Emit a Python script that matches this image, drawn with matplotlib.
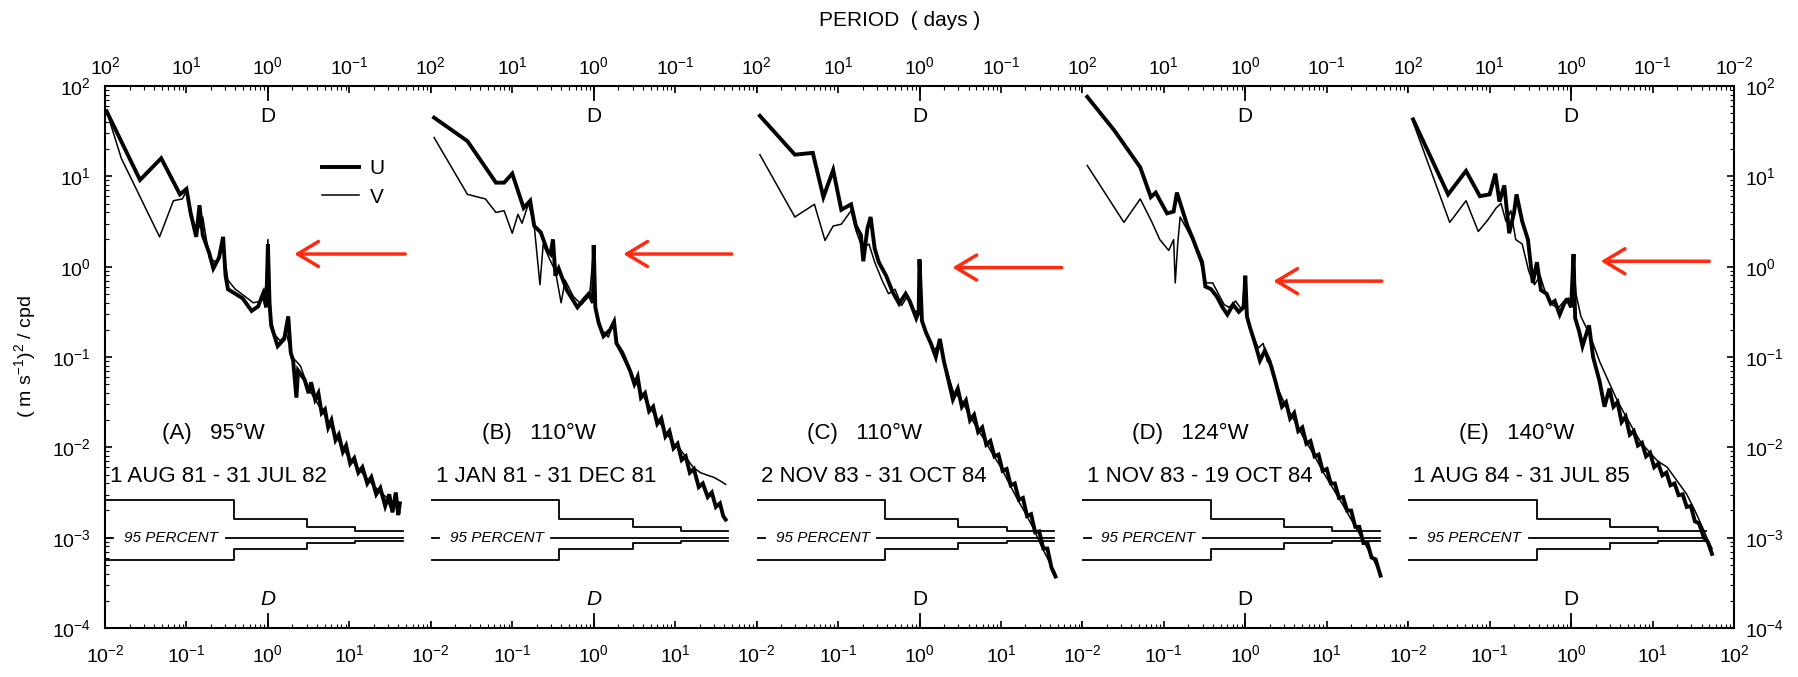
import numpy as np
import matplotlib.pyplot as plt
from matplotlib.lines import Line2D
from matplotlib.ticker import LogLocator, NullFormatter

plt.rcParams['font.family'] = ['Liberation Sans', 'DejaVu Sans']
plt.rcParams['mathtext.fontset'] = 'custom'
plt.rcParams['mathtext.rm'] = 'Liberation Sans'
plt.rcParams['mathtext.it'] = 'Liberation Sans:italic'

# panel captions
panel_ids = ['(A)', '(B)', '(C)', '(D)', '(E)']
longitudes = ['95°W', '110°W', '110°W', '124°W', '140°W']
records = ['1 AUG 81 - 31 JUL 82', '1 JAN 81 - 31 DEC 81', '2 NOV 83 - 31 OCT 84',
           '1 NOV 83 - 19 OCT 84', '1 AUG 84 - 31 JUL 85']

# spectra: (log10 frequency [cpd], log10 spectral density)
a_u = [(-1.98, 1.72), (-1.57, 0.96), (-1.31, 1.20), (-1.08, 0.80), (-1.00, 0.86), (-0.95, 0.60),
       (-0.88, 0.33), (-0.84, 0.68), (-0.80, 0.35), (-0.72, 0.15), (-0.67, -0.02), (-0.60, 0.10),
       (-0.55, 0.33), (-0.52, -0.10), (-0.49, -0.25), (-0.40, -0.30), (-0.31, -0.35), (-0.20, -0.49),
       (-0.12, -0.44), (-0.06, -0.30), (-0.02, -0.45), (0.0, 0.25), (0.02, -0.40), (0.04, -0.65),
       (0.12, -0.88), (0.20, -0.80), (0.25, -0.55), (0.28, -0.95), (0.31, -1.04), (0.35, -1.45),
       (0.37, -1.15), (0.45, -1.25), (0.50, -1.40), (0.53, -1.28), (0.58, -1.47), (0.62, -1.40),
       (0.66, -1.62), (0.70, -1.58), (0.74, -1.78), (0.78, -1.70), (0.83, -1.92), (0.87, -1.86),
       (0.92, -2.05), (0.96, -1.98), (1.01, -2.18), (1.06, -2.12), (1.11, -2.28), (1.16, -2.22),
       (1.22, -2.40), (1.27, -2.33), (1.33, -2.52), (1.38, -2.45), (1.44, -2.65), (1.49, -2.52),
       (1.53, -2.72), (1.57, -2.50), (1.60, -2.75), (1.62, -2.62)]
a_v = [(-1.98, 1.72), (-1.80, 1.20), (-1.33, 0.33), (-1.16, 0.73), (-1.05, 0.75), (-1.00, 0.84),
       (-0.95, 0.55), (-0.86, 0.40), (-0.80, 0.55), (-0.72, 0.10), (-0.64, 0.05), (-0.55, 0.20),
       (-0.49, -0.15), (-0.40, -0.25), (-0.28, -0.33), (-0.18, -0.40), (-0.08, -0.38), (-0.02, -0.20),
       (0.0, 0.30), (0.02, -0.50), (0.08, -0.75), (0.15, -0.82), (0.23, -0.75), (0.30, -1.00),
       (0.40, -1.10), (0.50, -1.35), (0.60, -1.50), (0.72, -1.68), (0.85, -1.90), (0.97, -2.08),
       (1.10, -2.22), (1.22, -2.35), (1.35, -2.47), (1.45, -2.55), (1.52, -2.70), (1.58, -2.60),
       (1.62, -2.72)]
b_u = [(-1.96, 1.65), (-1.55, 1.39), (-1.20, 0.93), (-1.10, 0.93), (-1.00, 1.03), (-0.86, 0.65),
       (-0.78, 0.73), (-0.73, 0.45), (-0.65, 0.38), (-0.57, 0.18), (-0.53, 0.14), (-0.50, 0.30),
       (-0.47, -0.10), (-0.43, -0.02), (-0.33, -0.26), (-0.20, -0.45), (-0.12, -0.36), (-0.06, -0.30),
       (-0.01, -0.40), (0.0, 0.24), (0.02, -0.45), (0.06, -0.62), (0.12, -0.77), (0.20, -0.70),
       (0.25, -0.61), (0.28, -0.85), (0.35, -0.95), (0.45, -1.16), (0.50, -1.30), (0.54, -1.22),
       (0.58, -1.45), (0.63, -1.40), (0.68, -1.60), (0.73, -1.55), (0.78, -1.74), (0.83, -1.68),
       (0.88, -1.88), (0.93, -1.82), (0.98, -2.01), (1.03, -1.96), (1.08, -2.14), (1.13, -2.10),
       (1.18, -2.28), (1.23, -2.24), (1.29, -2.44), (1.34, -2.40), (1.40, -2.55), (1.45, -2.50),
       (1.50, -2.66), (1.55, -2.62), (1.59, -2.76), (1.62, -2.80)]
b_v = [(-1.96, 1.43), (-1.55, 0.80), (-1.33, 0.75), (-1.20, 0.60), (-1.10, 0.62), (-1.00, 0.37),
       (-0.93, 0.58), (-0.88, 0.48), (-0.80, 0.70), (-0.73, 0.45), (-0.66, -0.20), (-0.62, 0.25),
       (-0.55, 0.10), (-0.47, -0.05), (-0.40, -0.40), (-0.35, -0.15), (-0.25, -0.33), (-0.15, -0.42),
       (-0.05, -0.32), (0.0, 0.20), (0.03, -0.50), (0.10, -0.70), (0.18, -0.78), (0.24, -0.62),
       (0.30, -0.90), (0.40, -1.08), (0.50, -1.25), (0.60, -1.42), (0.72, -1.60), (0.85, -1.78),
       (0.97, -1.95), (1.06, -2.02), (1.14, -2.12), (1.22, -2.22), (1.31, -2.28), (1.40, -2.31),
       (1.47, -2.33), (1.55, -2.37), (1.62, -2.41)]
c_u = [(-1.96, 1.67), (-1.53, 1.24), (-1.31, 1.26), (-1.18, 0.77), (-1.06, 1.07), (-0.96, 0.63),
       (-0.84, 0.69), (-0.78, 0.45), (-0.72, 0.35), (-0.69, 0.06), (-0.64, 0.42), (-0.60, 0.55),
       (-0.55, 0.20), (-0.50, 0.05), (-0.41, -0.10), (-0.33, -0.28), (-0.25, -0.41), (-0.17, -0.30),
       (-0.12, -0.38), (-0.04, -0.57), (-0.01, -0.50), (0.0, 0.08), (0.03, -0.60), (0.08, -0.73),
       (0.14, -0.85), (0.20, -1.00), (0.25, -0.80), (0.30, -1.05), (0.33, -1.16), (0.41, -1.47),
       (0.47, -1.35), (0.52, -1.55), (0.57, -1.48), (0.62, -1.70), (0.67, -1.64), (0.72, -1.83),
       (0.77, -1.78), (0.82, -1.97), (0.87, -1.93), (0.92, -2.10), (0.97, -2.08), (1.02, -2.26),
       (1.07, -2.24), (1.12, -2.42), (1.17, -2.40), (1.22, -2.58), (1.27, -2.56), (1.32, -2.76),
       (1.37, -2.74), (1.42, -2.94), (1.47, -2.93), (1.52, -3.12), (1.57, -3.12), (1.62, -3.33),
       (1.67, -3.43)]
c_v = [(-1.96, 1.24), (-1.53, 0.55), (-1.29, 0.69), (-1.16, 0.29), (-1.06, 0.45), (-0.96, 0.47),
       (-0.84, 0.62), (-0.78, 0.40), (-0.70, 0.20), (-0.62, 0.25), (-0.55, 0.05), (-0.46, -0.15),
       (-0.38, -0.30), (-0.30, -0.25), (-0.22, -0.43), (-0.15, -0.33), (-0.08, -0.48), (-0.02, -0.50),
       (0.0, 0.00), (0.03, -0.62), (0.10, -0.78), (0.18, -0.92), (0.26, -0.85), (0.32, -1.10),
       (0.42, -1.40), (0.50, -1.45), (0.60, -1.62), (0.70, -1.78), (0.80, -1.92), (0.90, -2.08),
       (1.00, -2.22), (1.10, -2.40), (1.20, -2.57), (1.30, -2.73), (1.40, -2.90), (1.50, -3.10),
       (1.60, -3.28), (1.67, -3.40)]
d_u = [(-1.94, 1.88), (-1.61, 1.51), (-1.29, 1.10), (-1.16, 0.77), (-1.10, 0.82), (-1.04, 0.72),
       (-0.96, 0.59), (-0.88, 0.61), (-0.84, 0.82), (-0.78, 0.65), (-0.71, 0.45), (-0.64, 0.30),
       (-0.59, 0.18), (-0.53, 0.05), (-0.49, -0.22), (-0.42, -0.25), (-0.35, -0.33), (-0.28, -0.45),
       (-0.22, -0.53), (-0.15, -0.42), (-0.08, -0.50), (-0.02, -0.45), (0.0, -0.10), (0.02, -0.55),
       (0.06, -0.68), (0.12, -0.85), (0.18, -1.04), (0.24, -0.93), (0.30, -1.05), (0.37, -1.27),
       (0.45, -1.55), (0.50, -1.50), (0.55, -1.68), (0.60, -1.62), (0.65, -1.82), (0.70, -1.78),
       (0.75, -1.96), (0.80, -1.93), (0.85, -2.10), (0.90, -2.08), (0.95, -2.26), (1.00, -2.24),
       (1.05, -2.40), (1.10, -2.40), (1.15, -2.56), (1.20, -2.55), (1.25, -2.70), (1.30, -2.70),
       (1.35, -2.88), (1.40, -2.88), (1.45, -3.06), (1.50, -3.06), (1.55, -3.22), (1.60, -3.24),
       (1.66, -3.42)]
d_v = [(-1.94, 1.12), (-1.49, 0.49), (-1.29, 0.75), (-1.15, 0.50), (-1.05, 0.30), (-0.94, 0.18),
       (-0.88, 0.30), (-0.86, -0.18), (-0.83, 0.25), (-0.80, 0.55), (-0.72, 0.42), (-0.64, 0.28),
       (-0.55, 0.05), (-0.48, -0.18), (-0.40, -0.18), (-0.33, -0.30), (-0.26, -0.42), (-0.20, -0.45),
       (-0.12, -0.38), (-0.04, -0.48), (0.0, -0.12), (0.03, -0.58), (0.10, -0.78), (0.16, -0.90),
       (0.22, -0.85), (0.27, -1.05), (0.33, -1.10), (0.40, -1.35), (0.50, -1.55), (0.60, -1.70),
       (0.72, -1.90), (0.84, -2.08), (0.96, -2.28), (1.08, -2.46), (1.20, -2.64), (1.32, -2.83),
       (1.44, -3.02), (1.55, -3.20), (1.66, -3.40)]
e_u = [(-1.94, 1.63), (-1.51, 0.80), (-1.29, 1.06), (-1.12, 0.78), (-1.00, 0.80), (-0.93, 1.03),
       (-0.88, 0.72), (-0.82, 0.90), (-0.76, 0.37), (-0.70, 0.60), (-0.67, 0.80), (-0.60, 0.50),
       (-0.53, 0.30), (-0.47, -0.18), (-0.42, 0.05), (-0.37, -0.26), (-0.30, -0.30), (-0.25, -0.41),
       (-0.20, -0.38), (-0.14, -0.53), (-0.08, -0.40), (-0.04, -0.37), (0.0, -0.45), (0.03, 0.14),
       (0.05, -0.57), (0.10, -0.72), (0.14, -0.88), (0.22, -0.65), (0.27, -1.00), (0.35, -1.27),
       (0.41, -1.55), (0.47, -1.35), (0.52, -1.55), (0.57, -1.50), (0.62, -1.72), (0.67, -1.66),
       (0.72, -1.86), (0.77, -1.82), (0.82, -1.98), (0.87, -1.95), (0.92, -2.10), (0.97, -2.06),
       (1.02, -2.22), (1.07, -2.18), (1.12, -2.31), (1.17, -2.28), (1.22, -2.42), (1.27, -2.40),
       (1.32, -2.53), (1.37, -2.52), (1.42, -2.66), (1.47, -2.65), (1.52, -2.82), (1.57, -2.84),
       (1.63, -3.00), (1.68, -3.05), (1.73, -3.18)]
e_v = [(-1.94, 1.60), (-1.49, 0.49), (-1.29, 0.73), (-1.14, 0.39), (-1.02, 0.52), (-0.92, 0.65),
       (-0.86, 0.70), (-0.80, 0.50), (-0.74, 0.62), (-0.68, 0.30), (-0.60, 0.25), (-0.52, -0.05),
       (-0.45, -0.20), (-0.38, -0.10), (-0.30, -0.33), (-0.22, -0.43), (-0.15, -0.45), (-0.06, -0.35),
       (0.0, -0.40), (0.03, 0.05), (0.06, -0.30), (0.12, -0.55), (0.20, -0.70), (0.27, -0.85),
       (0.35, -1.05), (0.45, -1.25), (0.55, -1.45), (0.65, -1.62), (0.75, -1.78), (0.86, -1.95),
       (0.96, -2.05), (1.06, -2.15), (1.18, -2.22), (1.30, -2.37), (1.42, -2.52), (1.52, -2.70),
       (1.62, -2.90), (1.69, -3.05), (1.73, -3.12)]
u_spectra = [a_u, b_u, c_u, d_u, e_u]
v_spectra = [a_v, b_v, c_v, d_v, e_v]

# 95 percent confidence band (same for every record)
band_freq = [0.01, 0.38, 3.0, 11.7, 45.0]
band_upper = [2.6e-3, 1.6e-3, 1.3e-3, 1.2e-3]
band_lower = [5.6e-4, 7.4e-4, 8.8e-4, 9.2e-4]
band_level = 1e-3

# red arrows pointing at the diurnal peak (log10 cpd tip, tail, log10 level)
arrow_tip = [0.29, 0.33, 0.37, 0.31, 0.33]
arrow_tail = [1.72, 1.73, 1.78, 1.71, 1.73]
arrow_level = [0.14, 0.14, -0.01, -0.16, 0.06]

freq_ticks = [1e-2, 1e-1, 1e0, 1e1, 1e2]
freq_labels = ['$10^{-2}$', '$10^{-1}$', '$10^{0}$', '$10^{1}$', '$10^{2}$']
period_labels = ['$10^{2}$', '$10^{1}$', '$10^{0}$', '$10^{-1}$', '$10^{-2}$']
y_ticks = [1e-4, 1e-3, 1e-2, 1e-1, 1e0, 1e1, 1e2]
y_labels = ['$10^{-4}$', '$10^{-3}$', '$10^{-2}$', '$10^{-1}$', '$10^{0}$', '$10^{1}$', '$10^{2}$']

W, H = 1798, 677
fig = plt.figure(figsize=(W / 100, H / 100), dpi=100)
x0, x1 = 105 / W, 1734 / W
y0, y1 = 1 - 628 / H, 1 - 86 / H
pw = (x1 - x0) / 5
red = '#fe2b10'

for i in range(5):
    ax = fig.add_axes([x0 + i * pw, y0, pw, y1 - y0])
    ax.set_xscale('log')
    ax.set_yscale('log')
    ax.set_xlim(1e-2, 1e2)
    ax.set_ylim(1e-4, 1e2)
    for s in ax.spines.values():
        s.set_linewidth(1.5)
    ax.spines['left'].set_visible(i == 0)
    ax.spines['right'].set_visible(i == 4)

    # spectra
    u = np.array(u_spectra[i])
    v = np.array(v_spectra[i])
    ax.plot(10 ** u[:, 0], 10 ** u[:, 1], color='k', lw=2.8, solid_joinstyle='miter')
    ax.plot(10 ** v[:, 0], 10 ** v[:, 1], color='k', lw=1.1)

    # confidence band
    ax.step(band_freq, band_upper + [band_upper[-1]], where='post', color='k', lw=1.3)
    ax.step(band_freq, band_lower + [band_lower[-1]], where='post', color='k', lw=1.3)
    ax.plot([10 ** -1.98, 10 ** -1.90], [band_level] * 2, color='k', lw=1.3)
    ax.plot([10 ** -0.52, band_freq[-1]], [band_level] * 2, color='k', lw=1.3)
    ax.text(10 ** -1.19, band_level, '95 PERCENT', ha='center', va='center',
            fontsize=11, style='italic')

    # captions
    ax.text(10 ** -0.67, 10 ** -1.85, f'{panel_ids[i]}   {longitudes[i]}', ha='center',
            va='center', fontsize=16)
    ax.text(10 ** -1.94, 10 ** -2.32, records[i], ha='left', va='center', fontsize=16)

    # diurnal marks
    ax.axvline(1, 0, 0.025, color='k', lw=1.3)
    ax.axvline(1, 0.975, 1, color='k', lw=1.3)
    ax.text(1, 10 ** 1.66, 'D', ha='center', va='center', fontsize=15)
    ax.text(1, 10 ** -3.68, 'D', ha='center', va='center', fontsize=15,
            style='italic' if i < 2 else 'normal')

    ax.annotate('', xy=(10 ** arrow_tip[i], 10 ** arrow_level[i]),
                xytext=(10 ** arrow_tail[i], 10 ** arrow_level[i]),
                arrowprops=dict(arrowstyle='->,head_length=0.5,head_width=0.3',
                                color=red, lw=2.5, mutation_scale=30))

    # bottom frequency axis
    n = 5 if i == 4 else 4
    ax.set_xticks(freq_ticks, freq_labels[:n] + [''] * (5 - n))
    ax.xaxis.set_minor_locator(LogLocator(base=10, subs=np.arange(2, 10)))
    ax.xaxis.set_minor_formatter(NullFormatter())
    ax.tick_params(axis='x', which='major', direction='in', length=5, width=1.2,
                   labelsize=14, pad=12)
    ax.tick_params(axis='x', which='minor', direction='in', length=3, width=0.8)

    # y axis on the outer panels only
    ax.set_yticks(y_ticks, y_labels)
    ax.yaxis.set_minor_locator(LogLocator(base=10, subs=np.arange(2, 10)))
    ax.yaxis.set_minor_formatter(NullFormatter())
    if i == 0:
        ax.tick_params(axis='y', which='both', direction='in', left=True, right=False,
                       labelleft=True, labelsize=14, pad=10)
        ax.tick_params(axis='y', which='major', length=5, width=1.2)
        ax.tick_params(axis='y', which='minor', length=3, width=0.8)
    elif i == 4:
        ax.yaxis.tick_right()
        ax.tick_params(axis='y', which='both', direction='in', left=False, right=True,
                       labelright=True, labelsize=14, pad=8)
        ax.tick_params(axis='y', which='major', length=5, width=1.2)
        ax.tick_params(axis='y', which='minor', length=3, width=0.8)
    else:
        ax.tick_params(axis='y', which='both', left=False, right=False,
                       labelleft=False, labelright=False)

    # top period axis
    top = ax.twiny()
    top.set_xscale('log')
    top.set_xlim(1e-2, 1e2)
    top.set_xticks(freq_ticks, period_labels[:n] + [''] * (5 - n))
    top.xaxis.set_minor_locator(LogLocator(base=10, subs=np.arange(2, 10)))
    top.xaxis.set_minor_formatter(NullFormatter())
    for s in top.spines.values():
        s.set_visible(False)
    top.tick_params(axis='x', which='major', direction='in', length=5, width=1.2,
                    labelsize=14, pad=6)
    top.tick_params(axis='x', which='minor', direction='in', length=3, width=0.8)

    if i == 0:
        handles = [Line2D([], [], color='k', lw=2.8), Line2D([], [], color='k', lw=1.1)]
        ax.legend(handles, ['U', 'V'], loc='upper left', bbox_to_anchor=(0.665, 0.865),
                  frameon=False, fontsize=15, handlelength=1.8, handletextpad=0.5,
                  labelspacing=0.45, borderpad=0, borderaxespad=0)

fig.text(900 / W, 1 - 21 / H, 'PERIOD  ( days )', ha='center', va='center', fontsize=15)
fig.text(25 / W, 1 - 357 / H, '( m s$^{-1}$)$^{2}$ / cpd', ha='center', va='center',
         rotation=90, fontsize=14)

fig.savefig('out.png', dpi=100)
